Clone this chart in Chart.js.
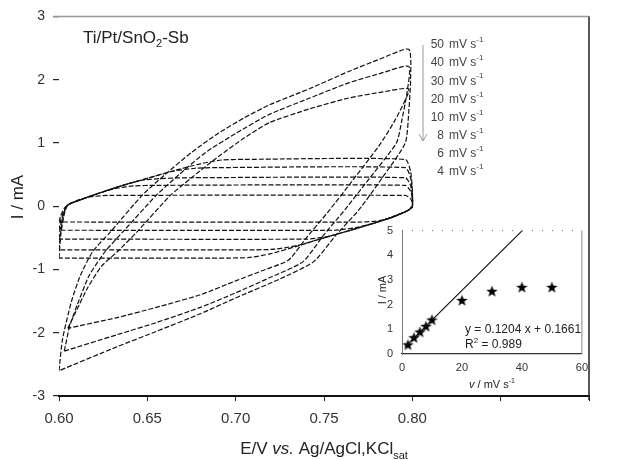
<!DOCTYPE html>
<html>
<head>
<meta charset="utf-8">
<script src="https://cdn.jsdelivr.net/npm/chart.js@4.4.0/dist/chart.umd.min.js"></script>
<style>
  body { margin: 0; background: #fff; }
  #wrap { position: relative; width: 617px; height: 460px; }
  #main { position: absolute; left: 0; top: 0; }
  #inset { position: absolute; left: 370px; top: 215px; }
</style>
</head>
<body>
<div id="wrap">
  <canvas id="main" width="617" height="460"></canvas>
  <canvas id="inset" width="225" height="180"></canvas>
</div>
<script>
// cyclic voltammograms, [E / V, I / mA]
const cv50 = [[0.600,-2.60],[0.602,-2.10],[0.607,-1.51],[0.612,-1.10],[0.619,-0.72],[0.629,-0.41],[0.647,0.17],[0.660,0.50],[0.675,0.85],[0.690,1.15],[0.705,1.40],[0.719,1.60],[0.742,1.86],[0.764,2.13],[0.782,2.33],[0.798,2.48],
  [0.799,2.00],[0.798,1.50],[0.796,1.00],[0.783,0.45],[0.770,-0.05],[0.757,-0.45],[0.744,-0.88],[0.725,-1.15],[0.700,-1.45],[0.680,-1.70],[0.655,-1.98],[0.633,-2.22],[0.600,-2.60]];
const cv40 = [[0.603,-2.29],[0.606,-1.90],[0.611,-1.51],[0.617,-1.10],[0.626,-0.72],[0.636,-0.41],[0.655,0.17],[0.668,0.50],[0.683,0.85],[0.700,1.15],[0.719,1.45],[0.742,1.71],[0.764,1.95],[0.782,2.10],[0.798,2.21],
  [0.797,1.80],[0.794,1.35],[0.791,1.00],[0.776,0.45],[0.762,-0.05],[0.750,-0.45],[0.738,-0.88],[0.720,-1.12],[0.700,-1.37],[0.680,-1.60],[0.655,-1.84],[0.633,-2.03],[0.603,-2.29]];
const cv30 = [[0.605,-1.93],[0.609,-1.70],[0.616,-1.30],[0.624,-0.95],[0.633,-0.72],[0.644,-0.41],[0.663,0.17],[0.675,0.45],[0.690,0.78],[0.705,1.08],[0.719,1.32],[0.742,1.54],[0.764,1.71],[0.782,1.80],[0.798,1.85],
  [0.790,1.35],[0.781,0.95],[0.766,0.40],[0.752,-0.10],[0.740,-0.50],[0.730,-0.85],[0.715,-1.02],[0.700,-1.18],[0.680,-1.40],[0.655,-1.60],[0.633,-1.76],[0.605,-1.93]];
const cv20 = [[0.600,-0.82],[0.601,-0.45],[0.603,-0.12],[0.605,0.02],[0.612,0.10],[0.622,0.20],[0.635,0.32],[0.650,0.44],[0.665,0.56],[0.680,0.67],[0.692,0.73],[0.705,0.74],[0.796,0.74],[0.799,0.55],[0.800,0.25],[0.800,0.00],
  [0.798,-0.06],[0.795,-0.10],[0.788,-0.18],[0.778,-0.27],[0.765,-0.38],[0.750,-0.50],[0.735,-0.63],[0.720,-0.75],[0.708,-0.81],[0.695,-0.82],[0.600,-0.82]];
const cv10 = [[0.600,-0.69],[0.601,-0.40],[0.603,-0.10],[0.605,0.02],[0.612,0.10],[0.622,0.20],[0.635,0.32],[0.650,0.44],[0.664,0.55],[0.677,0.60],[0.690,0.61],[0.796,0.61],[0.799,0.45],[0.800,0.20],[0.800,0.00],
  [0.798,-0.06],[0.795,-0.10],[0.788,-0.18],[0.778,-0.27],[0.765,-0.38],[0.750,-0.50],[0.735,-0.62],[0.722,-0.68],[0.708,-0.69],[0.600,-0.69]];
const cv8 = [[0.600,-0.52],[0.601,-0.30],[0.603,-0.08],[0.605,0.02],[0.612,0.10],[0.622,0.20],[0.635,0.32],[0.647,0.41],[0.660,0.44],[0.675,0.45],[0.796,0.45],[0.799,0.33],[0.800,0.15],[0.800,0.00],
  [0.798,-0.06],[0.795,-0.10],[0.788,-0.18],[0.778,-0.27],[0.765,-0.38],[0.752,-0.48],[0.740,-0.52],[0.600,-0.52]];
const cv6 = [[0.600,-0.38],[0.601,-0.22],[0.603,-0.06],[0.605,0.02],[0.612,0.10],[0.622,0.20],[0.632,0.28],[0.642,0.32],[0.655,0.33],[0.796,0.33],[0.799,0.24],[0.800,0.12],[0.800,0.02],
  [0.798,-0.06],[0.795,-0.10],[0.788,-0.18],[0.778,-0.27],[0.768,-0.34],[0.756,-0.38],[0.600,-0.38]];
const cv4 = [[0.600,-0.25],[0.601,-0.15],[0.603,-0.03],[0.607,0.05],[0.612,0.11],[0.618,0.15],[0.628,0.17],[0.796,0.17],[0.799,0.12],[0.800,0.05],[0.800,-0.02],
  [0.795,-0.10],[0.788,-0.18],[0.781,-0.23],[0.772,-0.25],[0.600,-0.25]];

const scanLabels = ['50', '40', '30', '20', '10', '8', '6', '4'];
const xTickMax = 0.80;

// inset: current vs scan rate
const rates = [2, 4, 6, 8, 10, 20, 30, 40, 50];
const peakI = [0.37, 0.66, 0.89, 1.12, 1.38, 2.17, 2.54, 2.70, 2.70];
const fitX = [1.0, 40.1];
const fitY = [0.29, 5.0];

const FONT = '"Liberation Sans", Arial, sans-serif';

function toXY(arr) {
  return arr.map(p => ({ x: p[0], y: p[1] }));
}

// superscript / subscript helper
function drawParts(ctx, x, y, parts) {
  parts.forEach(p => {
    ctx.font = p.font;
    ctx.fillText(p.t, x, y + (p.dy || 0));
    x += ctx.measureText(p.t).width;
  });
  return x;
}
function partsWidth(ctx, parts) {
  let w = 0;
  parts.forEach(p => { ctx.font = p.font; w += ctx.measureText(p.t).width; });
  return w;
}

const mainDecor = {
  id: 'mainDecor',
  afterDraw(chart) {
    const ctx = chart.ctx;
    const a = chart.chartArea;
    ctx.save();
    // frame top / right
    ctx.strokeStyle = '#999';
    ctx.lineWidth = 1.5;
    ctx.beginPath();
    ctx.moveTo(53, a.top);
    ctx.lineTo(a.right, a.top);
    ctx.stroke();
    ctx.strokeStyle = '#222';
    ctx.beginPath();
    ctx.moveTo(a.right, a.top);
    ctx.lineTo(a.right, a.bottom + 4);
    ctx.stroke();

    // sample label
    ctx.fillStyle = '#222';
    ctx.textBaseline = 'alphabetic';
    ctx.textAlign = 'left';
    drawParts(ctx, 83, 43, [
      { t: 'Ti/Pt/SnO', font: '17px ' + FONT },
      { t: '2', font: '11px ' + FONT, dy: 4 },
      { t: '-Sb', font: '17px ' + FONT }
    ]);

    // scan rate list
    ctx.fillStyle = '#444';
    ctx.textBaseline = 'middle';
    scanLabels.forEach((s, i) => {
      const y = 45 + i * 18.1;
      ctx.textAlign = 'right';
      ctx.font = '12px ' + FONT;
      ctx.fillText(s, 444, y);
      ctx.textAlign = 'left';
      drawParts(ctx, 449, y, [
        { t: 'mV s', font: '12px ' + FONT },
        { t: '-1', font: '8px ' + FONT, dy: -5 }
      ]);
    });

    // arrow
    ctx.strokeStyle = '#999';
    ctx.lineWidth = 1;
    ctx.beginPath();
    ctx.moveTo(423, 45);
    ctx.lineTo(423, 141);
    ctx.moveTo(419, 134);
    ctx.lineTo(423, 141);
    ctx.lineTo(427, 134);
    ctx.stroke();

    // axis titles
    ctx.fillStyle = '#222';
    ctx.textBaseline = 'middle';
    ctx.textAlign = 'center';
    ctx.translate(18, 197);
    ctx.rotate(-Math.PI / 2);
    ctx.font = '17px ' + FONT;
    ctx.fillText('I / mA', 0, 0);
    ctx.setTransform(1, 0, 0, 1, 0, 0);

    const xt = [
      { t: 'E/V ', font: '17px ' + FONT },
      { t: 'vs.', font: 'italic 17px ' + FONT },
      { t: ' Ag/AgCl,KCl', font: '17px ' + FONT },
      { t: 'sat', font: '11px ' + FONT, dy: 5 }
    ];
    ctx.textAlign = 'left';
    ctx.textBaseline = 'alphabetic';
    const w = partsWidth(ctx, xt);
    drawParts(ctx, (a.left + a.right) / 2 - w / 2, 454, xt);
    ctx.restore();
  }
};

const lineStyle = {
  showLine: true,
  pointRadius: 0,
  borderColor: '#111',
  borderWidth: 1.2,
  borderDash: [5, 2],
  tension: 0.2,
  fill: false
};

new Chart(document.getElementById('main'), {
  type: 'scatter',
  data: {
    datasets: [cv50, cv40, cv30, cv20, cv10, cv8, cv6, cv4].map((d, i) =>
      Object.assign({ label: scanLabels[i] + ' mV/s', data: toXY(d) }, lineStyle))
  },
  options: {
    responsive: false,
    animation: false,
    layout: { padding: { top: 13, right: 28, left: 0, bottom: 0 } },
    plugins: { legend: { display: false }, tooltip: { enabled: false } },
    scales: {
      x: {
        type: 'linear', min: 0.6, max: 0.9,
        afterFit: s => { s.height = 64; },
        border: { display: true, color: '#111', width: 2 },
        grid: { drawOnChartArea: false, drawTicks: true, tickLength: 5, color: '#222' },
        ticks: {
          stepSize: 0.05, padding: 9, color: '#333', font: { family: FONT, size: 15 },
          maxRotation: 0,
          callback: v => v <= xTickMax + 0.001 ? v.toFixed(2) : ''
        }
      },
      y: {
        min: -3, max: 3,
        afterFit: s => { s.width = 59; },
        border: { display: false },
        grid: { drawOnChartArea: false, drawTicks: true, tickLength: 6, color: '#222', lineWidth: 1.2 },
        ticks: { stepSize: 1, padding: 8, color: '#333', font: { family: FONT, size: 14 } }
      }
    }
  },
  plugins: [mainDecor]
});

// filled star marker for the inset
const star = document.createElement('canvas');
star.width = 13; star.height = 13;
(function () {
  const c = star.getContext('2d');
  c.fillStyle = '#000';
  c.beginPath();
  for (let k = 0; k < 10; k++) {
    const r = k % 2 === 0 ? 6 : 2.5;
    const ang = -Math.PI / 2 + k * Math.PI / 5;
    const px = 6.5 + r * Math.cos(ang), py = 6.8 + r * Math.sin(ang);
    if (k === 0) c.moveTo(px, py); else c.lineTo(px, py);
  }
  c.closePath();
  c.fill();
})();

const insetDecor = {
  id: 'insetDecor',
  afterDraw(chart) {
    const ctx = chart.ctx;
    const a = chart.chartArea;
    ctx.save();
    ctx.strokeStyle = '#888';
    ctx.lineWidth = 1;
    ctx.beginPath();
    ctx.moveTo(a.right, a.top);
    ctx.lineTo(a.right, a.bottom);
    ctx.stroke();
    ctx.setLineDash([1, 9]);
    ctx.strokeStyle = '#666';
    ctx.beginPath();
    ctx.moveTo(a.left, a.top);
    ctx.lineTo(a.right, a.top);
    ctx.stroke();
    ctx.setLineDash([]);

    ctx.fillStyle = '#222';
    ctx.textAlign = 'left';
    ctx.textBaseline = 'middle';
    ctx.font = '12px ' + FONT;
    ctx.fillText('y = 0.1204 x + 0.1661', 95, 115);
    drawParts(ctx, 95, 130, [
      { t: 'R', font: '12px ' + FONT },
      { t: '2', font: '8px ' + FONT, dy: -4 },
      { t: ' = 0.989', font: '12px ' + FONT }
    ]);

    const xt = [
      { t: 'v', font: 'italic 11px ' + FONT },
      { t: ' / mV s', font: '11px ' + FONT },
      { t: '-1', font: '7px ' + FONT, dy: -4 }
    ];
    const w = partsWidth(ctx, xt);
    drawParts(ctx, (a.left + a.right) / 2 - w / 2, 170, xt);

    ctx.translate(13, 75);
    ctx.rotate(-Math.PI / 2);
    ctx.textAlign = 'center';
    ctx.font = '11px ' + FONT;
    ctx.fillText('I / mA', 0, 0);
    ctx.restore();
  }
};

new Chart(document.getElementById('inset'), {
  type: 'scatter',
  data: {
    datasets: [
      {
        label: 'fit',
        data: fitX.map((x, i) => ({ x: x, y: fitY[i] })),
        showLine: true, pointRadius: 0, borderColor: '#111', borderWidth: 1.2
      },
      {
        label: 'I',
        data: rates.map((r, i) => ({ x: r, y: peakI[i] })),
        pointStyle: star, pointRadius: 6
      }
    ]
  },
  options: {
    responsive: false,
    animation: false,
    layout: { padding: { top: 10, right: 13, left: 0, bottom: 0 } },
    plugins: { legend: { display: false }, tooltip: { enabled: false } },
    scales: {
      x: {
        min: 0, max: 60,
        afterFit: s => { s.height = 41; },
        border: { display: true, color: '#333', width: 1.2 },
        grid: { display: true, drawOnChartArea: false, drawTicks: false },
        ticks: { stepSize: 20, padding: 7, color: '#333', font: { family: FONT, size: 11 }, maxRotation: 0 }
      },
      y: {
        min: 0, max: 5,
        afterFit: s => { s.width = 32; },
        border: { display: true, color: '#777', width: 1 },
        grid: { display: true, drawOnChartArea: false, drawTicks: false },
        ticks: { stepSize: 1, padding: 9, color: '#333', font: { family: FONT, size: 11 } }
      }
    }
  },
  plugins: [insetDecor]
});
</script>
</body>
</html>
